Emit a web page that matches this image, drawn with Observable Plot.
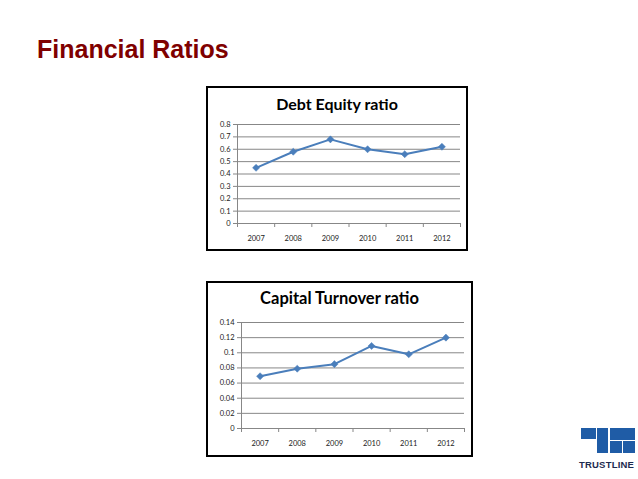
<!DOCTYPE html>
<html><head><meta charset="utf-8">
<script src="https://cdn.jsdelivr.net/npm/d3@7"></script>
<script src="https://cdn.jsdelivr.net/npm/@observablehq/plot@0.6"></script>
<style>
html,body{margin:0;padding:0;background:#fff}
body{width:638px;height:479px;position:relative;overflow:hidden;font-family:Lato,"Open Sans",sans-serif}
#title{position:absolute;left:37px;top:35px;font:bold 25px "Liberation Sans",Arial,sans-serif;color:#7f0000;white-space:nowrap}
.box{position:absolute;border:2px solid #000;background:#fff}
.box svg{position:absolute;left:0;top:0}
.ct{position:absolute;left:0;right:0;text-align:center;font-weight:bold;color:#000;font-family:Lato,sans-serif;white-space:nowrap}
.lg{position:absolute;background:#1f5ca6}
#logotext{position:absolute;left:579px;top:459px;font:bold 9.5px "Liberation Sans",Arial,sans-serif;color:#1d2b4f;letter-spacing:0.2px}
</style></head><body>
<div id="title">Financial Ratios</div>
<div id="c1" class="box" style="left:206px;top:86px;width:258px;height:161px"><div class="ct" style="top:6px;font-size:16px">Debt Equity ratio</div></div>
<div id="c2" class="box" style="left:206px;top:281px;width:263px;height:172px"><div class="ct" style="top:5px;font-size:16.5px">Capital Turnover ratio</div></div>
<div class="lg" style="left:581px;top:428px;width:15px;height:11px"></div>
<div class="lg" style="left:597px;top:428px;width:11px;height:25px"></div>
<div class="lg" style="left:610px;top:428px;width:25px;height:12px"></div>
<div class="lg" style="left:610px;top:441px;width:12px;height:12px"></div>
<div class="lg" style="left:623px;top:441px;width:12px;height:12px"></div>
<div id="logotext">TRUSTLINE</div>
<script>
const years = [2007, 2008, 2009, 2010, 2011, 2012];
const debtEquity = [0.45, 0.58, 0.68, 0.60, 0.56, 0.62];
const capitalTurnover = [0.069, 0.079, 0.085, 0.109, 0.098, 0.12];
const debtTicks = [0, 0.1, 0.2, 0.3, 0.4, 0.5, 0.6, 0.7, 0.8];
const capTicks = [0, 0.02, 0.04, 0.06, 0.08, 0.1, 0.12, 0.14];

const lineColor = "#4a7ebb";
const gridColor = "#878787";

function chart(values, ticks, o) {
  const data = years.map((y, i) => ({year: y, value: values[i]}));
  const bounds = years.map(y => y - 0.5).concat([years[years.length - 1] + 0.5]);
  return Plot.plot({
    width: o.width, height: o.height,
    marginLeft: o.ml, marginRight: o.mr, marginTop: o.mt, marginBottom: o.mb,
    style: {fontFamily: "Lato, sans-serif", fontSize: "7.5px", color: "#222", background: "transparent"},
    x: {domain: [years[0] - 0.5, years[years.length - 1] + 0.5], axis: null, label: null},
    y: {domain: [ticks[0], ticks[ticks.length - 1]], axis: null, label: null},
    marks: [
      Plot.ruleY(ticks, {stroke: gridColor, strokeWidth: 1}),
      Plot.ruleX([bounds[0]], {stroke: gridColor, strokeWidth: 1}),
      Plot.axisY(ticks, {tickSize: 4, tickPadding: 3, stroke: gridColor, label: null, tickFormat: d => String(d)}),
      Plot.axisX(bounds, {tickSize: 4, stroke: gridColor, label: null, tickFormat: () => ""}),
      Plot.axisX(years, {tickSize: 0, tickPadding: 12, label: null, tickFormat: d => String(d)}),
      Plot.line(data, {x: "year", y: "value", stroke: lineColor, strokeWidth: 2}),
      Plot.dot(data, {x: "year", y: "value", symbol: "diamond2", r: 3.2, fill: lineColor, stroke: lineColor, strokeWidth: 0.5})
    ]
  });
}

document.getElementById("c1").appendChild(chart(debtEquity, debtTicks, {width: 258, height: 161, ml: 29, mr: 6, mt: 36, mb: 26}));
document.getElementById("c2").appendChild(chart(capitalTurnover, capTicks, {width: 263, height: 172, ml: 33, mr: 7, mt: 39, mb: 27}));
</script>
</body></html>
